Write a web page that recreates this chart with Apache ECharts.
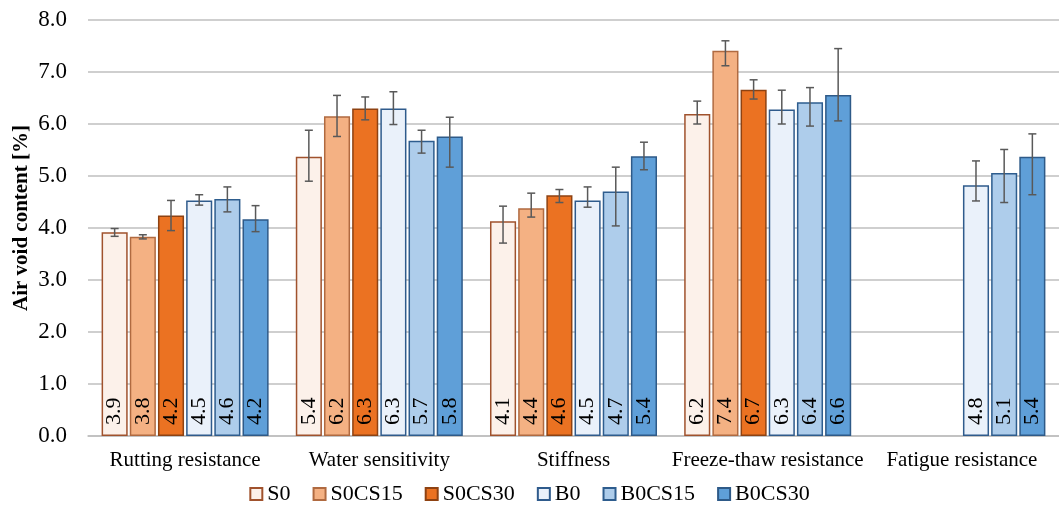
<!DOCTYPE html>
<html>
<head>
<meta charset="utf-8">
<script src="https://cdn.jsdelivr.net/npm/echarts@6/dist/echarts.min.js"></script>
<style>
  html, body { margin: 0; padding: 0; background: #ffffff; }
  #chart { width: 1059px; height: 508px; }
</style>
</head>
<body>
<div id="chart"></div>
<script>
// Test categories
const categories = ['Rutting resistance', 'Water sensitivity', 'Stiffness', 'Freeze-thaw resistance', 'Fatigue resistance'];
const seriesNames = ['S0', 'S0CS15', 'S0CS30', 'B0', 'B0CS15', 'B0CS30'];
const yTicks = [0, 1, 2, 3, 4, 5, 6, 7, 8];

// Mean air void content [%] per mixture
const S0     = [3.92, 5.37, 4.13, 6.19, null];
const S0CS15 = [3.83, 6.15, 4.38, 7.41, null];
const S0CS30 = [4.24, 6.30, 4.63, 6.66, null];
const B0     = [4.53, 6.30, 4.53, 6.28, 4.82];
const B0CS15 = [4.56, 5.68, 4.70, 6.42, 5.06];
const B0CS30 = [4.17, 5.76, 5.38, 6.56, 5.37];

// Error bar limits (lower / upper)
const S0_lo     = [3.84, 4.90, 3.71, 6.00, null];
const S0_hi     = [3.99, 5.88, 4.42, 6.44, null];
const S0CS15_lo = [3.79, 5.76, 4.21, 7.12, null];
const S0CS15_hi = [3.87, 6.55, 4.67, 7.60, null];
const S0CS30_lo = [3.95, 6.08, 4.49, 6.48, null];
const S0CS30_hi = [4.53, 6.52, 4.74, 6.85, null];
const B0_lo     = [4.44, 5.99, 4.40, 6.00, 4.52];
const B0_hi     = [4.64, 6.62, 4.79, 6.65, 5.29];
const B0CS15_lo = [4.31, 5.44, 4.04, 5.96, 4.49];
const B0CS15_hi = [4.79, 5.88, 5.17, 6.70, 5.51];
const B0CS30_lo = [3.93, 5.17, 5.12, 6.06, 4.64];
const B0CS30_hi = [4.43, 6.13, 5.65, 7.45, 5.81];

const values = [S0, S0CS15, S0CS30, B0, B0CS15, B0CS30];
const lows = [S0_lo, S0CS15_lo, S0CS30_lo, B0_lo, B0CS15_lo, B0CS30_lo];
const highs = [S0_hi, S0CS15_hi, S0CS30_hi, B0_hi, B0CS15_hi, B0CS30_hi];

const fills = ['#FCF1EA', '#F4B183', '#EB7222', '#EAF1FA', '#AECDEB', '#5F9FD8'];
const borders = ['#A0522D', '#B06A40', '#8E4212', '#2F5B8C', '#2E5D8E', '#2E5A88'];

const FONT = '"Liberation Serif", "Times New Roman", serif';
const CAT_GAP = 0.14;
const BAR_GAP = 0.08;
const N = seriesNames.length;

const series = [];
values.forEach((vals, i) => {
  series.push({
    name: seriesNames[i],
    type: 'bar',
    data: vals,
    barCategoryGap: (CAT_GAP * 100) + '%',
    barGap: (BAR_GAP * 100) + '%',
    itemStyle: { color: fills[i], borderColor: borders[i], borderWidth: 1.5 },
    label: {
      show: true,
      position: 'insideBottom',
      rotate: 90,
      align: 'left',
      verticalAlign: 'middle',
      distance: 11,
      color: '#000',
      fontFamily: FONT,
      fontSize: 22,
      formatter: p => p.value == null ? '' : p.value.toFixed(1)
    },
    z: 2
  });
});

// Error bars, placed over the matching bar slot in each category band
values.forEach((vals, i) => {
  const data = categories.map((c, k) => [k, lows[i][k], highs[i][k]]).filter(d => d[1] != null);
  series.push({
    name: seriesNames[i] + ' error',
    type: 'custom',
    data: data,
    z: 5,
    silent: true,
    legendHoverLink: false,
    renderItem: (params, api) => {
      const band = api.size([1, 0])[0];
      const barW = band * (1 - CAT_GAP) / (N + (N - 1) * BAR_GAP);
      const total = N * barW + (N - 1) * barW * BAR_GAP;
      const offset = -total / 2 + i * barW * (1 + BAR_GAP) + barW / 2;
      const lo = api.coord([api.value(0), api.value(1)]);
      const hi = api.coord([api.value(0), api.value(2)]);
      const x = lo[0] + offset;
      const cap = 4;
      const style = { stroke: '#595959', lineWidth: 1.5 };
      return {
        type: 'group',
        children: [
          { type: 'line', shape: { x1: x, y1: lo[1], x2: x, y2: hi[1] }, style },
          { type: 'line', shape: { x1: x - cap, y1: lo[1], x2: x + cap, y2: lo[1] }, style },
          { type: 'line', shape: { x1: x - cap, y1: hi[1], x2: x + cap, y2: hi[1] }, style }
        ]
      };
    }
  });
});

const chart = echarts.init(document.getElementById('chart'));
chart.setOption({
  animation: false,
  backgroundColor: '#ffffff',
  grid: { left: 88, right: 0, top: 20, bottom: 72 },
  legend: {
    data: seriesNames,
    bottom: -2,
    left: 'center',
    icon: 'rect',
    itemWidth: 12,
    itemHeight: 12,
    itemGap: 22,
    textStyle: { fontFamily: FONT, fontSize: 22, color: '#000' }
  },
  xAxis: {
    type: 'category',
    data: categories,
    axisLine: { lineStyle: { color: '#BFBFBF', width: 1.5 } },
    axisTick: { show: false },
    axisLabel: { fontFamily: FONT, fontSize: 21, color: '#000', margin: 14, interval: 0 }
  },
  yAxis: {
    type: 'value',
    min: yTicks[0],
    max: yTicks[yTicks.length - 1],
    interval: 1,
    name: 'Air void content [%]',
    nameLocation: 'middle',
    nameGap: 56,
    nameMoveOverlap: false,
    nameTextStyle: { fontFamily: FONT, fontSize: 21, fontWeight: 'bold', color: '#000', padding: [0, 0, 0, 20] },
    axisLine: { show: false },
    axisTick: { show: false },
    splitLine: { lineStyle: { color: '#BFBFBF', width: 1.5 } },
    axisLabel: { fontFamily: FONT, fontSize: 23, color: '#000', margin: 21, formatter: v => v.toFixed(1) }
  },
  series: series
});
</script>
</body>
</html>
